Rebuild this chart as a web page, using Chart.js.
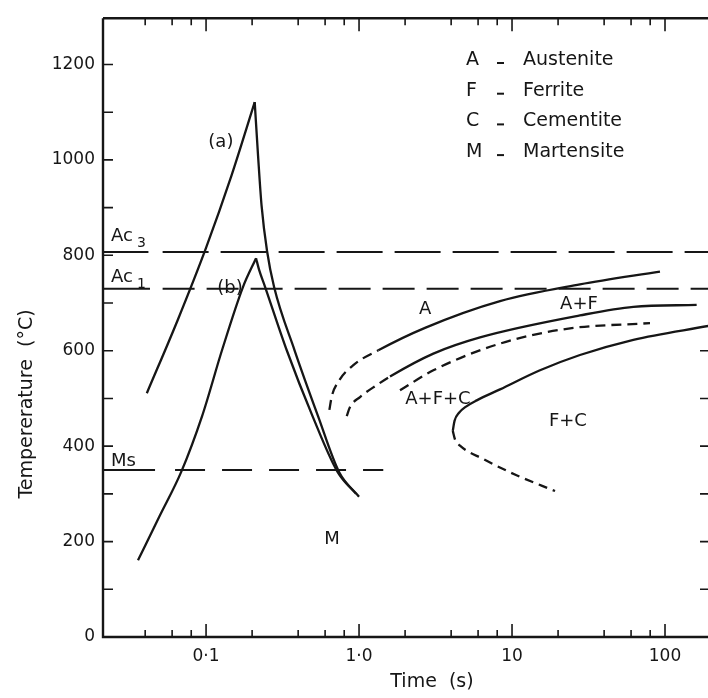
<!DOCTYPE html>
<html>
<head>
<meta charset="utf-8">
<script src="https://cdn.jsdelivr.net/npm/chart.js@4.4.1/dist/chart.umd.min.js"></script>
<style>
    html, body { margin: 0; padding: 0; background: #fff; }
    #wrap { width: 708px; height: 698px; position: relative; }
</style>
</head>
<body>
<div id="wrap"><canvas id="charts"></canvas></div>
<script>
// axis ranges: time (s) on a log scale, temperature (deg C)
const timeMin = 0.0212
const timeMax = 191
const tempMax = 1297

const xMajorTicks = [0.1, 1, 10, 100]
const xTickLabels = ['0·1', '1·0', '10', '100']
const xMinorTicks = [0.04, 0.06, 0.08, 0.2, 0.4, 0.6, 0.8, 2, 4, 6, 8, 20, 40, 60, 80]
const yMajorTicks = [0, 200, 400, 600, 800, 1000, 1200]
const yMinorTicks = [100, 300, 500, 700, 900, 1100]
const yRightTicks = [100, 200, 300, 400, 500, 600]

// critical temperatures
const ac3 = 807
const ac1 = 730
const ms = 350
const ac3SolidTime = [timeMin, 0.042]
const ac3DashTime = [0.052, timeMax]
const ac1SolidTime = [timeMin, 0.043]
const ac1DashTime = [0.052, timeMax]
const msSolidTime = [timeMin, 0.0464]
const msDashTime = [0.0627, 1.44]

// thermal cycles (a) and (b)
const aHeatTime = [0.041, 0.0652, 0.0998, 0.1466, 0.208]
const aHeatTemp = [511, 664, 815, 967, 1121]
const aCoolTime = [0.208, 0.2188, 0.2306, 0.2504, 0.2782, 0.3789, 0.5395, 0.7403, 1.0]
const aCoolTemp = [1121, 1008, 904, 809, 734, 601, 463, 346, 294]
const bHeatTime = [0.0359, 0.0498, 0.0688, 0.0942, 0.1271, 0.1745, 0.2122]
const bHeatTemp = [161, 254, 346, 463, 601, 734, 794]
const bCoolTime = [0.2122, 0.222, 0.243, 0.3368, 0.4966, 0.7236, 0.956]
const bCoolTemp = [794, 770, 734, 601, 463, 346, 300]

// transformation curves (dashed up to the given time)
const c1Time = [0.640, 0.663, 0.732, 0.918, 1.337, 2.70, 8.35, 27.8, 92.7]
const c1Temp = [476, 504, 535, 570, 601, 648, 704, 739, 766]
const c1DashUntil = 1.337

const c2Time = [0.831, 0.873, 1.015, 1.305, 1.594, 3.06, 6.18, 27.8, 62.1, 161]
const c2Temp = [463, 482, 503, 528, 546, 594, 628, 674, 692, 696]
const c2DashUntil = 1.594

const c3Time = [1.853, 3.06, 8.35, 22.8, 79.8]
const c3Temp = [517, 559, 615, 646, 658]

const c4Time = [4.10, 4.209, 4.504, 5.005, 5.88, 8.35, 15.24, 27.8, 62.1, 192]
const c4Temp = [432, 453, 470, 483, 496, 519, 559, 591, 623, 652]
const c4DashTime = [4.10, 4.24, 4.57, 6.49, 10.7, 19.1]
const c4DashTemp = [432, 414, 401, 373, 339, 306]

// labels inside the plot
const regionLabels = ['(a)', '(b)', 'A', 'A+F', 'A+F+C', 'F+C', 'M']
const regionLabelTime = [0.125, 0.1435, 2.70, 27.4, 3.28, 23.2, 0.667]
const regionLabelTemp = [1037, 730, 687, 697, 499, 453, 205]

const legendKeys = ['A', 'F', 'C', 'M']
const legendNames = ['Austenite', 'Ferrite', 'Cementite', 'Martensite']

const ink = '#161616'
const fontFamily = '"DejaVu Sans", "Noto Sans", sans-serif'
const shortDash = [10, 6]

function pts(times, temps)
{
    return times.map((t, i) => ({x: t, y: temps[i]}))
}

function flat(times, temp)
{
    return times.map(t => ({x: t, y: temp}))
}

function line(data, dash, width)
{
    return {
        data: data,
        borderColor: ink,
        borderWidth: width || 2.3,
        borderDash: dash || [],
        pointRadius: 0,
        cubicInterpolationMode: 'monotone',
        fill: false
    }
}

// solid curve whose first part (up to dashUntil) is dashed
function partDashed(data, dashUntil)
{
    const ds = line(data, [], 2.3)
    ds.segment = {
        borderDash: ctx => ctx.p1.parsed.x <= dashUntil ? shortDash : []
    }
    return ds
}

const datasets = [
    line(flat(ac3SolidTime, ac3), [], 2),
    line(flat(ac3DashTime, ac3), [46, 12], 2),
    line(flat(ac1SolidTime, ac1), [], 2),
    line(flat(ac1DashTime, ac1), [32, 12], 2),
    line(flat(msSolidTime, ms), [], 2),
    line(flat(msDashTime, ms), [30, 17], 2),
    line(pts(aHeatTime, aHeatTemp)),
    line(pts(aCoolTime, aCoolTemp)),
    line(pts(bHeatTime, bHeatTemp)),
    line(pts(bCoolTime, bCoolTemp)),
    partDashed(pts(c1Time, c1Temp), c1DashUntil),
    partDashed(pts(c2Time, c2Temp), c2DashUntil),
    line(pts(c3Time, c3Temp), shortDash),
    line(pts(c4Time, c4Temp)),
    line(pts(c4DashTime, c4DashTemp), [9, 6])
]

// frame, inward ticks and all annotation text
const annotate = {
    id: 'annotate',
    afterDraw(chart)
    {
        const {ctx, chartArea, scales} = chart
        const sx = scales.x, sy = scales.y
        const L = chartArea.left, R = chartArea.right, T = chartArea.top, B = chartArea.bottom

        ctx.save()
        ctx.strokeStyle = ink
        ctx.lineCap = 'butt'

        // axes
        ctx.lineWidth = 2.4
        ctx.beginPath()
        ctx.moveTo(L, T)
        ctx.lineTo(L, B)
        ctx.lineTo(R, B)
        ctx.moveTo(L, T)
        ctx.lineTo(R, T)
        ctx.stroke()

        // ticks
        ctx.lineWidth = 1.6
        ctx.beginPath()
        xMajorTicks.forEach(v => {
            const p = sx.getPixelForValue(v)
            ctx.moveTo(p, B); ctx.lineTo(p, B - 13)
            ctx.moveTo(p, T); ctx.lineTo(p, T + 13)
        })
        xMinorTicks.forEach(v => {
            const p = sx.getPixelForValue(v)
            ctx.moveTo(p, B); ctx.lineTo(p, B - 7)
            ctx.moveTo(p, T); ctx.lineTo(p, T + 7)
        })
        yMajorTicks.concat(yMinorTicks).forEach(v => {
            const p = sy.getPixelForValue(v)
            ctx.moveTo(L, p); ctx.lineTo(L + 10, p)
        })
        yRightTicks.forEach(v => {
            const p = sy.getPixelForValue(v)
            ctx.moveTo(R, p); ctx.lineTo(R - 8, p)
        })
        ctx.stroke()

        ctx.fillStyle = ink
        ctx.textBaseline = 'middle'

        // region labels
        ctx.font = '18px ' + fontFamily
        ctx.textAlign = 'center'
        regionLabels.forEach((s, i) => {
            ctx.fillText(s, sx.getPixelForValue(regionLabelTime[i]), sy.getPixelForValue(regionLabelTemp[i]))
        })

        // critical temperature labels
        ctx.textAlign = 'left'
        ctx.textBaseline = 'alphabetic'
        const crit = [['Ac', '3', ac3, 11], ['Ac', '1', ac1, 7], ['Ms', '', ms, 4]]
        crit.forEach(c => {
            const py = sy.getPixelForValue(c[2]) - c[3]
            ctx.font = '18px ' + fontFamily
            ctx.fillText(c[0], L + 8, py)
            const w = ctx.measureText(c[0]).width
            ctx.font = '14px ' + fontFamily
            ctx.fillText(c[1], L + 12 + w, py + 6)
        })

        // legend
        ctx.textBaseline = 'middle'
        ctx.font = '19px ' + fontFamily
        legendKeys.forEach((k, i) => {
            const py = 60 + i * 30.7
            ctx.textAlign = 'left'
            ctx.fillText(k, 466, py)
            ctx.fillText(legendNames[i], 523, py)
            ctx.fillRect(497, py + 2, 7, 2)
        })

        // axis titles
        ctx.font = '19px ' + fontFamily
        ctx.textAlign = 'center'
        ctx.fillText('Time  (s)', 432, 682)
        ctx.translate(27, 404)
        ctx.rotate(-Math.PI / 2)
        ctx.fillText('Tempererature  (°C)', 0, 0)
        ctx.restore()
    }
}

const chart = new Chart(document.getElementById('charts').getContext('2d'), {
    type: 'line',
    data: { datasets: datasets },
    options: {
        responsive: true,
        maintainAspectRatio: false,
        animation: false,
        layout: { padding: { top: 10, right: 0, left: 0, bottom: 0 } },
        plugins: {
            legend: { display: false },
            tooltip: { enabled: false }
        },
        scales: {
            x: {
                type: 'logarithmic',
                min: timeMin,
                max: timeMax,
                grid: { display: false, drawTicks: false },
                border: { display: false },
                afterBuildTicks: s => { s.ticks = xMajorTicks.map(v => ({value: v})) },
                afterFit: s => { s.height = 61 },
                ticks: {
                    autoSkip: false,
                    maxRotation: 0,
                    padding: 9,
                    color: ink,
                    font: { family: fontFamily, size: 17 },
                    callback: v => xTickLabels[xMajorTicks.indexOf(v)]
                }
            },
            y: {
                type: 'linear',
                min: 0,
                max: tempMax,
                grid: { display: false, drawTicks: false },
                border: { display: false },
                afterBuildTicks: s => { s.ticks = yMajorTicks.map(v => ({value: v})) },
                afterFit: s => { s.width = 103 },
                ticks: {
                    padding: 8,
                    color: ink,
                    font: { family: fontFamily, size: 17 },
                    callback: v => String(v)
                }
            }
        }
    },
    plugins: [annotate]
})
</script>
</body>
</html>
